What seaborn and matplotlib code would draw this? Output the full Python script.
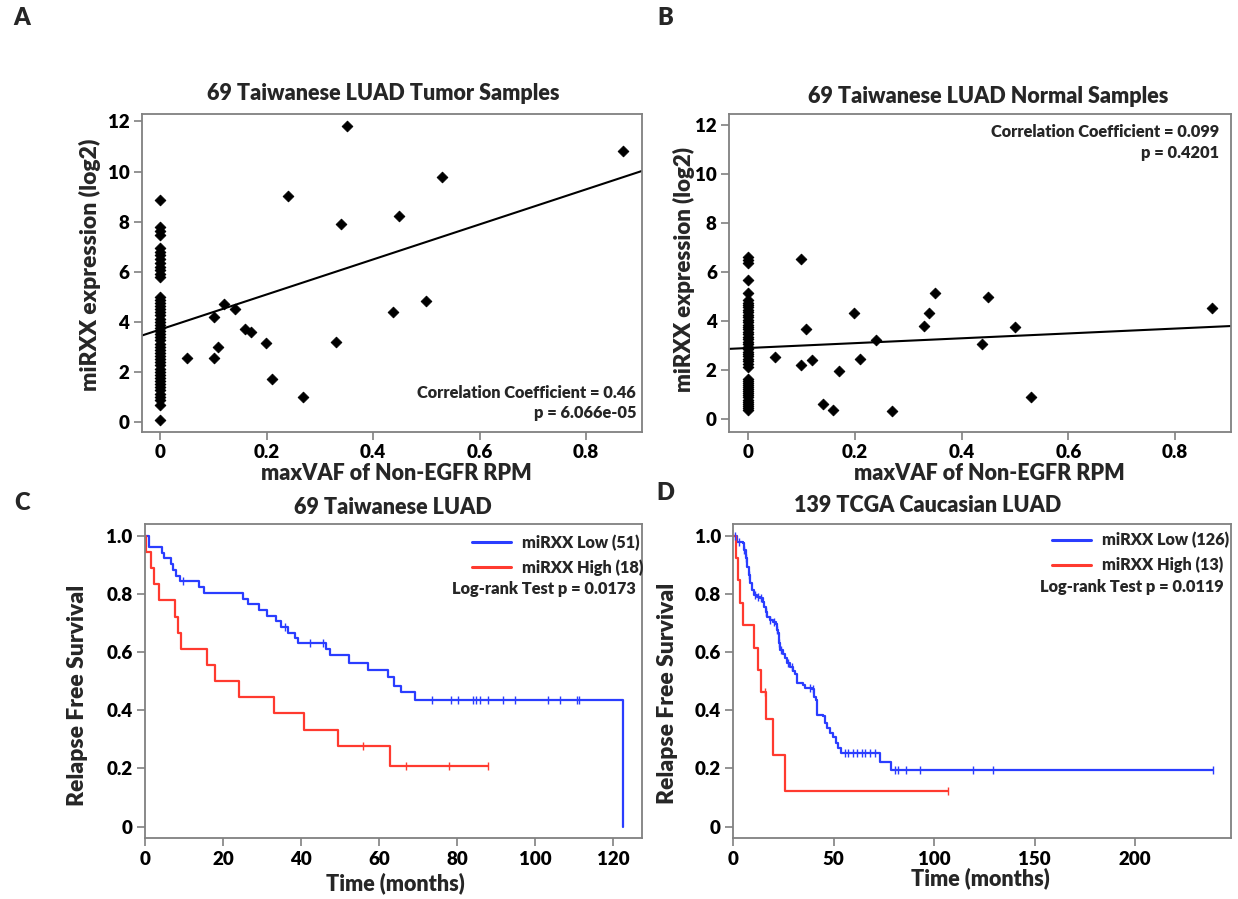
import numpy as np
import pandas as pd
import matplotlib
matplotlib.use("Agg")
import matplotlib.pyplot as plt
import seaborn as sns

# ---------------- data ----------------
# maxVAF of non-EGFR RPM for the 20 samples with non-zero values (same samples in A and B)
maxvaf_nonzero = [0.05, 0.10, 0.10, 0.108, 0.12, 0.14, 0.159, 0.17, 0.198, 0.21,
                  0.24, 0.269, 0.33, 0.339, 0.35, 0.438, 0.449, 0.50, 0.53, 0.87]
tumor_nonzero = [2.54, 2.56, 4.18, 2.97, 4.71, 4.49, 3.69, 3.57, 3.16, 1.69,
                 9.01, 1.00, 3.20, 7.91, 11.83, 4.39, 8.24, 4.83, 9.77, 10.84]
normal_nonzero = [2.53, 6.54, 2.24, 3.70, 2.42, 0.62, 0.39, 1.97, 4.33, 2.45,
                  3.24, 0.35, 3.82, 4.33, 5.16, 3.06, 5.00, 3.78, 0.91, 4.54]
# expression of the 49 samples with maxVAF = 0
tumor_zero = [8.87, 7.80, 7.62, 7.47, 6.95, 6.80, 6.65, 6.50, 6.35, 6.20, 6.05, 5.92, 5.80,
              5.00, 4.88, 4.75, 4.62, 4.50, 4.38, 4.25, 4.12, 4.00, 3.87, 3.75, 3.62, 3.50,
              3.38, 3.25, 3.12, 3.00, 2.87, 2.75, 2.62, 2.50, 2.38, 2.25, 2.12, 2.00, 1.88,
              1.75, 1.62, 1.50, 1.38, 1.25, 1.12, 1.00, 0.85, 0.65, 0.07]
normal_zero = [6.64, 6.50, 6.37, 5.68, 5.17,
               4.87, 4.77, 4.67, 4.57, 4.47, 4.37, 4.27, 4.17, 4.07, 3.97, 3.87, 3.77, 3.67,
               3.57, 3.47, 3.37, 3.27, 3.17, 3.07, 2.97, 2.87, 2.77, 2.67, 2.57, 2.47, 2.37,
               2.27, 2.15,
               1.67, 1.58, 1.50, 1.41, 1.33, 1.24, 1.15, 1.07, 0.98, 0.90, 0.81, 0.72, 0.64,
               0.55, 0.47, 0.38]

# Kaplan-Meier step curves (time in months, survival probability)
c_low_t = [0, 1.1, 4.3, 5.0, 6.7, 7.1, 8.0, 9.0, 13.9, 15.1, 25.2, 26.3, 29.1, 31.2, 33.5,
           34.9, 36.6, 38.5, 39.3, 46.4, 47.3, 52.4, 57.2, 62.4, 63.7, 65.6, 69.2, 122.6]
c_low_s = [1.0, 0.961, 0.941, 0.922, 0.902, 0.882, 0.863, 0.843, 0.824, 0.804, 0.784, 0.765,
           0.745, 0.725, 0.706, 0.686, 0.667, 0.650, 0.632, 0.610, 0.590, 0.561, 0.539, 0.516,
           0.483, 0.462, 0.435, 0.0]
c_low_cens = [9.8, 35.9, 42.3, 45.6, 73.5, 78.5, 80.2, 84.2, 84.8, 85.9, 88.0, 91.7, 94.9,
              103.3, 106.4, 110.7, 111.3]
c_high_t = [0, 0.3, 1.45, 2.3, 3.7, 7.7, 8.5, 9.2, 15.8, 18.0, 24.0, 33.1, 40.8, 49.4, 62.7, 87.9]
c_high_s = [1.0, 0.944, 0.889, 0.833, 0.778, 0.722, 0.667, 0.611, 0.556, 0.500, 0.444,
            0.389, 0.333, 0.278, 0.209, 0.209]
c_high_cens = [55.9, 66.9, 77.8, 87.9]

d_low_t = [0, 1.68, 4.65, 5.31, 6.14, 6.97, 7.63, 8.3, 9.13, 10.29, 11.62, 13.28, 14.6, 15.27,
           16.27, 16.93, 18.26, 19.92, 21.24, 21.91, 22.4, 22.74, 23.24, 24.56, 25.72, 26.89,
           28.21, 29.54, 30.7, 31.86, 34.85, 35.68, 39.0, 40.16, 41.16, 41.82, 44.81, 45.64,
           46.8, 48.13, 49.46, 51.12, 52.28, 53.44, 73.03, 78.5, 239.0]
d_low_s = [1.0, 0.979, 0.974, 0.951, 0.922, 0.894, 0.865, 0.836, 0.813, 0.796, 0.790, 0.785,
           0.773, 0.756, 0.739, 0.722, 0.710, 0.705, 0.697, 0.676, 0.664, 0.630, 0.607, 0.593,
           0.579, 0.561, 0.550, 0.536, 0.525, 0.495, 0.487, 0.475, 0.472, 0.447, 0.435, 0.383,
           0.380, 0.355, 0.338, 0.321, 0.307, 0.286, 0.269, 0.252, 0.223, 0.195, 0.195]
d_low_cens = [1.0, 3.0, 5.5, 6.5, 8.0, 11.0, 12.5, 14.0, 16.5, 18.5, 20.5, 22.0, 23.0, 24.0,
              27.5, 29.0, 38.0, 39.5, 55.6, 57.2, 59.7, 61.4, 63.9, 65.5, 68.0, 70.5, 80.5,
              82.2, 85.9, 92.9, 119.5, 129.4, 239.0]
d_high_t = [0, 1.2, 2.2, 3.3, 4.7, 10.3, 12.1, 13.8, 16.3, 19.6, 25.7, 107.1]
d_high_s = [1.0, 0.923, 0.846, 0.769, 0.692, 0.615, 0.538, 0.462, 0.369, 0.246, 0.123, 0.123]
d_high_cens = [15.8, 107.1]

# ---------------- style ----------------
sns.set_style("ticks")
W = "heavy"
plt.rcParams["font.family"] = ["Lato", "DejaVu Sans"]
plt.rcParams["font.weight"] = W
plt.rcParams["axes.labelweight"] = W
plt.rcParams["axes.titleweight"] = W

BLUE = "#2a3dff"
RED = "#ff3a2f"
SPINE = "#808080"

TICK_FS = 13.5
LABEL_FS = 15.5
YLABEL_FS = 16.5
TITLE_FS = 15.5
ANN_FS = 11.8
LEG_FS = 11.7

fig = plt.figure(figsize=(12.38, 8.99), dpi=100)
axA = fig.add_axes([0.1145, 0.5198, 0.4039, 0.3534])
axB = fig.add_axes([0.5891, 0.5198, 0.4053, 0.3534])
axC = fig.add_axes([0.1171, 0.0675, 0.4012, 0.3496])
axD = fig.add_axes([0.5923, 0.0675, 0.4020, 0.3496])


def style_axes(ax):
    for sp in ax.spines.values():
        sp.set_color(SPINE)
        sp.set_linewidth(1.3)
    ax.tick_params(direction="out", length=6, width=1.2, color=SPINE,
                   labelsize=TICK_FS, pad=3, labelcolor="black")


def scatter_panel(ax, x0_vals, nz_vals, title, tx, ty, ylim, ann, ann_x, ann_y):
    x = [0.0] * len(x0_vals) + list(maxvaf_nonzero)
    y = list(x0_vals) + list(nz_vals)
    df = pd.DataFrame({"maxVAF": x, "expr": y})
    ax.set_xlim(-0.035, 0.905)
    ax.set_ylim(*ylim)
    sns.scatterplot(data=df, x="maxVAF", y="expr", marker="D", s=30, color="black",
                    edgecolor="black", linewidth=0.6, ax=ax, zorder=3)
    sns.regplot(data=df, x="maxVAF", y="expr", scatter=False, ci=None, truncate=False,
                line_kws=dict(color="black", lw=1.5), ax=ax)
    ax.set_xlim(-0.035, 0.905)
    ax.set_ylim(*ylim)
    ax.set_xticks([0, 0.2, 0.4, 0.6, 0.8])
    ax.set_xticklabels(["0", "0.2", "0.4", "0.6", "0.8"])
    ax.set_yticks([0, 2, 4, 6, 8, 10, 12])
    ax.set_xlabel("maxVAF of Non-EGFR RPM", fontsize=LABEL_FS)
    ax.set_ylabel("miRXX expression (log2)", fontsize=YLABEL_FS)
    ax.set_title(title, x=tx, y=ty, pad=0, fontsize=TITLE_FS, va="center")
    ax.text(ann_x, ann_y[0], ann[0], transform=ax.transAxes, ha="right", va="center",
            fontsize=ANN_FS)
    ax.text(ann_x, ann_y[1], ann[1], transform=ax.transAxes, ha="right", va="center",
            fontsize=ANN_FS)
    style_axes(ax)


scatter_panel(axA, tumor_zero, tumor_nonzero, "69 Taiwanese LUAD Tumor Samples",
              0.4836, 1.063, (-0.4, 12.3),
              ("Correlation Coefficient = 0.46", "p = 6.066e-05"), 0.9886, (0.1228, 0.058))
scatter_panel(axB, normal_zero, normal_nonzero, "69 Taiwanese LUAD Normal Samples",
              0.5157, 1.0535, (-0.5, 12.46),
              ("Correlation Coefficient = 0.099", "p = 0.4201"), 0.9767, (0.944, 0.876))

axA.xaxis.label.set_va("center")
axA.xaxis.set_label_coords(0.51, -0.131)
axA.yaxis.label.set_va("center")
axA.yaxis.set_label_coords(-0.1034, 0.525)
axB.xaxis.label.set_va("center")
axB.xaxis.set_label_coords(0.5176, -0.131)
axB.yaxis.label.set_va("center")
axB.yaxis.label.set_fontsize(16)
axB.yaxis.set_label_coords(-0.0905, 0.509)


def step_at(times, surv, ct):
    idx = np.searchsorted(np.asarray(times), np.asarray(ct), side="right") - 1
    return np.asarray(surv)[idx]


def km_panel(ax, curves, xmax, xticks, title, tx, ty, leg_anchor, lr_text, lr_pos):
    ax.set_xlim(0, xmax)
    ax.set_ylim(-0.04, 1.04)
    for t, s, cens, color, lab in curves:
        sns.lineplot(x=t, y=s, drawstyle="steps-post", estimator=None, sort=False,
                     color=color, lw=1.6, ax=ax, label=lab)
        sns.scatterplot(x=cens, y=step_at(t, s, cens), marker="|", s=30, color=color,
                        linewidth=1.0, ax=ax, legend=False, zorder=3)
    ax.set_xlim(0, xmax)
    ax.set_ylim(-0.04, 1.04)
    ax.set_xticks(xticks)
    ax.set_yticks([0, 0.2, 0.4, 0.6, 0.8, 1.0])
    ax.set_yticklabels(["0", "0.2", "0.4", "0.6", "0.8", "1.0"])
    ax.set_xlabel("Time (months)", fontsize=LABEL_FS)
    ax.set_ylabel("Relapse Free Survival", fontsize=YLABEL_FS)
    ax.set_title(title, x=tx, y=ty, pad=0, fontsize=TITLE_FS, va="center")
    leg = ax.legend(loc="upper left", bbox_to_anchor=leg_anchor, frameon=False,
                    prop={"weight": W, "size": LEG_FS}, handlelength=2.4,
                    handletextpad=0.7, labelspacing=0.5, borderpad=0, borderaxespad=0)
    for line in leg.get_lines():
        line.set_linewidth(2.2)
    ax.text(lr_pos[0], lr_pos[1], lr_text, transform=ax.transAxes, ha="right",
            va="center", fontsize=ANN_FS)
    style_axes(ax)


km_panel(axC,
         [(c_low_t, c_low_s, c_low_cens, BLUE, "miRXX Low (51)"),
          (c_high_t, c_high_s, c_high_cens, RED, "miRXX High (18)")],
         127.3, [0, 20, 40, 60, 80, 100, 120], "69 Taiwanese LUAD", 0.4993, 1.054,
         (0.6577, 0.9660), "Log-rank Test p = 0.0173", (0.9885, 0.792))
km_panel(axD,
         [(d_low_t, d_low_s, d_low_cens, BLUE, "miRXX Low (126)"),
          (d_high_t, d_high_s, d_high_cens, RED, "miRXX High (13)")],
         247.8, [0, 50, 100, 150, 200], "139 TCGA Caucasian LUAD", 0.391, 1.0605,
         (0.6397, 0.9740), "Log-rank Test p = 0.0119", (0.986, 0.8005))

axC.xaxis.label.set_va("center")
axC.xaxis.set_label_coords(0.505, -0.143)
axC.yaxis.label.set_va("center")
axC.yaxis.set_label_coords(-0.1359, 0.456)
axD.xaxis.label.set_va("center")
axD.xaxis.set_label_coords(0.4957, -0.127)
axD.yaxis.label.set_va("center")
axD.yaxis.set_label_coords(-0.1322, 0.462)

for letter, (px, py) in {"A": (22, 18), "B": (665, 18), "C": (22, 503), "D": (665, 493)}.items():
    fig.text(px / 1238, 1 - py / 899, letter, fontsize=17, fontweight=W,
             ha="center", va="center")

fig.savefig("out.png", dpi=100)
